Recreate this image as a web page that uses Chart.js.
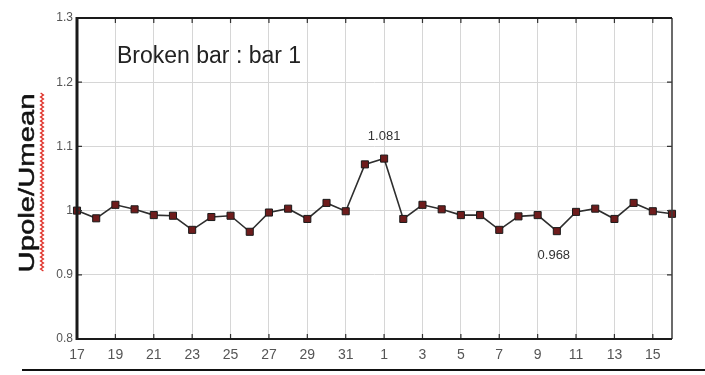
<!DOCTYPE html>
<html>
<head>
<meta charset="utf-8">
<script src="https://cdn.jsdelivr.net/npm/chart.js@4.4.1/dist/chart.umd.min.js"></script>
<style>
  html, body { margin: 0; padding: 0; background: #ffffff; }
  #wrap { width: 705px; height: 375px; }
</style>
</head>
<body>
<div id="wrap"><canvas id="c" width="705" height="375"></canvas></div>
<script>
// Pole positions around the rotor (bar numbering wraps from 32 back to 1)
const poles = ['17','18','19','20','21','22','23','24','25','26','27','28','29','30','31','32',
               '1','2','3','4','5','6','7','8','9','10','11','12','13','14','15','16'];

// Ratio of pole voltage to mean voltage
const upoleRatio = [1.000, 0.988, 1.009, 1.002, 0.993, 0.992, 0.970, 0.990, 0.992, 0.967, 0.997, 1.003, 0.987, 1.012, 0.999, 1.072,
                    1.081, 0.987, 1.009, 1.002, 0.993, 0.993, 0.970, 0.991, 0.993, 0.968, 0.998, 1.003, 0.987, 1.012, 0.999, 0.995];

// Y axis ticks
const yTicks = [0.8, 0.9, 1.0, 1.1, 1.2, 1.3];

// Annotated extremes (index into poles)
const annotated = [
  { index: 16, text: '1.081', where: 'above' },
  { index: 25, text: '0.968', where: 'below' }
];

const chartTitle = 'Broken bar : bar 1';
const yTitle = 'Upole/Umean';

const framePlugin = {
  id: 'frame',
  afterDraw(chart) {
    const ctx = chart.ctx;
    const a = chart.chartArea;
    const xs = chart.scales.x;
    const ys = chart.scales.y;
    ctx.save();

    // tick marks pointing into the plot
    ctx.strokeStyle = '#333';
    ctx.lineWidth = 1.2;
    poles.forEach((p, i) => {
      if (i % 2 !== 0) return;
      const x = xs.getPixelForValue(i);
      ctx.beginPath();
      ctx.moveTo(x, a.bottom); ctx.lineTo(x, a.bottom - 5);
      ctx.moveTo(x, a.top); ctx.lineTo(x, a.top + 5);
      ctx.stroke();
    });
    yTicks.forEach(v => {
      const y = ys.getPixelForValue(v);
      ctx.beginPath();
      ctx.moveTo(a.left, y); ctx.lineTo(a.left + 5, y);
      ctx.moveTo(a.right, y); ctx.lineTo(a.right - 5, y);
      ctx.stroke();
    });

    // plot box
    ctx.strokeStyle = '#3a3a3a';
    ctx.lineWidth = 1.5;
    ctx.beginPath();
    ctx.moveTo(a.right, a.top); ctx.lineTo(a.right, a.bottom);
    ctx.stroke();
    ctx.strokeStyle = '#1a1a1a';
    ctx.lineWidth = 2;
    ctx.beginPath();
    ctx.moveTo(a.left, a.top); ctx.lineTo(a.right, a.top);
    ctx.moveTo(a.left, a.bottom); ctx.lineTo(a.right, a.bottom);
    ctx.stroke();
    ctx.lineWidth = 3;
    ctx.beginPath();
    ctx.moveTo(a.left, a.top - 1); ctx.lineTo(a.left, a.bottom + 1);
    ctx.stroke();

    // rule under the chart
    ctx.strokeStyle = '#111';
    ctx.lineWidth = 2;
    ctx.beginPath();
    ctx.moveTo(22, 370); ctx.lineTo(705, 370);
    ctx.stroke();

    // title inside the plot
    ctx.fillStyle = '#222';
    ctx.font = '23px "Liberation Sans", Arial, sans-serif';
    ctx.textAlign = 'left';
    ctx.textBaseline = 'alphabetic';
    ctx.fillText(chartTitle, 117, 63);

    // value labels for the extremes
    ctx.font = '13px "Liberation Sans", Arial, sans-serif';
    ctx.fillStyle = '#333';
    ctx.textAlign = 'center';
    ctx.textBaseline = 'middle';
    annotated.forEach(n => {
      const x = xs.getPixelForValue(n.index);
      const y = ys.getPixelForValue(upoleRatio[n.index]);
      ctx.fillText(n.text, x - (n.where === 'below' ? 3 : 0), n.where === 'above' ? y - 22 : y + 24);
    });

    // rotated y axis title with spell-check squiggle
    const cy = 183;
    ctx.save();
    ctx.translate(34, cy);
    ctx.rotate(-Math.PI / 2);
    ctx.scale(1.33, 1);
    ctx.font = '22px "Liberation Sans", Arial, sans-serif';
    ctx.fillStyle = '#111';
    ctx.strokeStyle = '#111';
    ctx.lineWidth = 0.5;
    ctx.textAlign = 'center';
    ctx.textBaseline = 'alphabetic';
    ctx.fillText(yTitle, 0, 0);
    ctx.strokeText(yTitle, 0, 0);
    ctx.restore();

    ctx.strokeStyle = '#e0342c';
    ctx.lineWidth = 1.4;
    ctx.beginPath();
    for (let y = 93, k = 0; y <= 272; y += 2, k++) {
      const x = 42 + (k % 2 === 0 ? -1.4 : 1.4);
      if (k === 0) ctx.moveTo(x, y); else ctx.lineTo(x, y);
    }
    ctx.stroke();

    ctx.restore();
  }
};

new Chart(document.getElementById('c'), {
  type: 'line',
  data: {
    labels: poles,
    datasets: [{
      data: upoleRatio,
      borderColor: '#2e2e2e',
      borderWidth: 1.6,
      pointStyle: 'rect',
      pointRadius: 5,
      pointBackgroundColor: '#6e1c1c',
      pointBorderColor: '#1a1a1a',
      pointBorderWidth: 1,
      tension: 0,
      fill: false
    }]
  },
  options: {
    responsive: false,
    animation: false,
    events: [],
    layout: { padding: { left: 0, top: 18, right: 33, bottom: 0 } },
    plugins: { legend: { display: false }, tooltip: { enabled: false }, title: { display: false } },
    scales: {
      x: {
        type: 'category',
        offset: false,
        afterFit(scale) { scale.height = 36; },
        border: { display: false },
        grid: { color: '#d6d6d6', lineWidth: 1, drawTicks: false },
        ticks: {
          autoSkip: false,
          maxRotation: 0,
          padding: 8,
          color: '#555',
          font: { family: '"Liberation Sans", Arial, sans-serif', size: 14 },
          callback(v, i) { return i % 2 === 0 ? poles[i] : null; }
        }
      },
      y: {
        min: 0.8,
        max: 1.3,
        afterFit(scale) { scale.width = 77; },
        afterBuildTicks(scale) { scale.ticks = yTicks.map(v => ({ value: v })); },
        border: { display: false },
        grid: { color: '#d6d6d6', lineWidth: 1, drawTicks: false },
        ticks: {
          padding: 4,
          color: '#555',
          font: { family: '"Liberation Sans", Arial, sans-serif', size: 12 },
          callback(v) { return String(Number(v.toFixed(1))); }
        }
      }
    }
  },
  plugins: [framePlugin]
});
</script>
</body>
</html>
